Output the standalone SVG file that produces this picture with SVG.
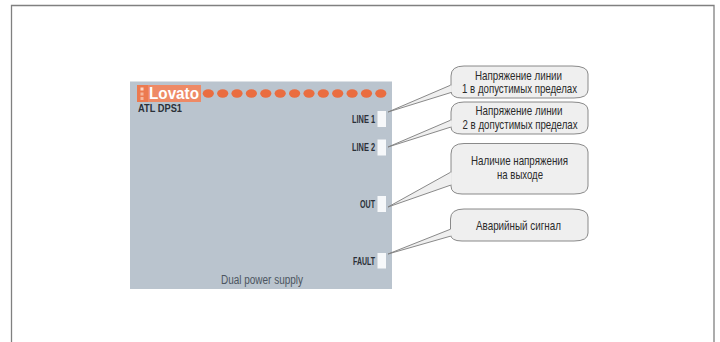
<svg xmlns="http://www.w3.org/2000/svg" width="720" height="342" viewBox="0 0 720 342">
<style>
.frame{fill:none;stroke:#808080;stroke-width:1.3}
.led{fill:#f6f8fa}
.dot{fill:#ea6d40}
.call{fill:#efefef;stroke:#7d7d7d;stroke-width:.9;stroke-linejoin:round}
.gap{stroke:#efefef;stroke-width:1.800;fill:none}
.t{font-family:"Liberation Sans",sans-serif;font-size:13px;fill:#2a2a2a}
.lab{font-family:"Liberation Sans",sans-serif;font-size:11px;font-weight:700;fill:#2b3038}
</style>
<rect width="720" height="342" fill="#fff"/>
<path class="frame" d="M11.500 342V5.500H714V342"/>
<g id="panel">
<rect x="130" y="81.500" width="262" height="207.500" fill="#bac4ce"/>
<rect x="137" y="85" width="64" height="17" fill="#ee8a66"/>
<rect x="137" y="85" width="11" height="17" fill="#ec7a50"/>
<rect x="140.500" y="87.500" width="3" height="3" fill="#fbd9c8"/>
<rect x="140.500" y="92.500" width="3" height="3" fill="#f6b89e"/>
<rect x="140.500" y="97" width="3" height="3" fill="#f6b89e"/>
<text x="149" y="99" font-family="Liberation Sans,sans-serif" font-size="17" font-weight="700" fill="#fff" textLength="50" lengthAdjust="spacingAndGlyphs">Lovato</text>
<g class="dot">
<ellipse cx="208.300" cy="93.500" rx="5.600" ry="4.200"/><ellipse cx="222.700" cy="93.500" rx="5.600" ry="4.200"/><ellipse cx="237" cy="93.500" rx="5.600" ry="4.200"/><ellipse cx="251.400" cy="93.500" rx="5.600" ry="4.200"/><ellipse cx="265.800" cy="93.500" rx="5.600" ry="4.200"/><ellipse cx="280.200" cy="93.500" rx="5.600" ry="4.200"/><ellipse cx="294.600" cy="93.500" rx="5.600" ry="4.200"/><ellipse cx="309" cy="93.500" rx="5.600" ry="4.200"/><ellipse cx="323.300" cy="93.500" rx="5.600" ry="4.200"/><ellipse cx="337.700" cy="93.500" rx="5.600" ry="4.200"/><ellipse cx="352.100" cy="93.500" rx="5.600" ry="4.200"/><ellipse cx="366.500" cy="93.500" rx="5.600" ry="4.200"/><ellipse cx="380.800" cy="93.500" rx="5.600" ry="4.200"/>
</g>
<text class="lab" x="138" y="112" textLength="44" lengthAdjust="spacingAndGlyphs">ATL DPS1</text>
<text x="221" y="284" font-family="Liberation Sans,sans-serif" font-size="12" fill="#4c5560" textLength="82" lengthAdjust="spacingAndGlyphs">Dual power supply</text>
</g>
<g id="led-line1"><rect class="led" x="377.500" y="111" width="8.500" height="16"/><text class="lab" x="352" y="122.500" textLength="23" lengthAdjust="spacingAndGlyphs">LINE 1</text></g>
<g id="led-line2"><rect class="led" x="377.500" y="139.500" width="8.500" height="16"/><text class="lab" x="352" y="151" textLength="23" lengthAdjust="spacingAndGlyphs">LINE 2</text></g>
<g id="led-out"><rect class="led" x="377.500" y="196" width="8.500" height="16"/><text class="lab" x="360" y="208" textLength="15" lengthAdjust="spacingAndGlyphs">OUT</text></g>
<g id="led-fault"><rect class="led" x="377.500" y="253" width="8.500" height="15.500"/><text class="lab" x="353" y="264.500" textLength="22" lengthAdjust="spacingAndGlyphs">FAULT</text></g>
<g id="callout-1"><path class="call" d="M451 76Q451 66 464 66H572Q588 66 588 74V90Q588 98 574 98H462Q451 98 451 91Z"/><text class="t" x="475" y="79.500" textLength="87" lengthAdjust="spacingAndGlyphs">Напряжение линии</text><text class="t" x="462" y="93" textLength="115" lengthAdjust="spacingAndGlyphs">1 в допустимых пределах</text></g>
<g id="callout-2"><path class="call" d="M451 112Q451 102 464 102H572Q588 102 588 110V126Q588 134 574 134H462Q451 134 451 127Z"/><text class="t" x="475.500" y="114.500" textLength="87" lengthAdjust="spacingAndGlyphs">Напряжение линии</text><text class="t" x="462.500" y="129" textLength="115" lengthAdjust="spacingAndGlyphs">2 в допустимых пределах</text></g>
<g id="callout-3"><path class="call" d="M451 154Q451 143.500 464 143.500H572Q588 143.500 588 152V186Q588 194 574 194H462Q451 194 451 186Z"/><text class="t" x="471" y="165" textLength="97" lengthAdjust="spacingAndGlyphs">Наличие напряжения</text><text class="t" x="497" y="179" textLength="46" lengthAdjust="spacingAndGlyphs">на выходе</text></g>
<g id="callout-4"><path class="call" d="M450.500 219Q450.500 209 464 209H572Q588 209 588 217V233Q588 241 574 241H462Q450.500 241 450.500 234Z"/><text class="t" x="476" y="230" textLength="85" lengthAdjust="spacingAndGlyphs">Аварийный сигнал</text></g>
<g id="connectors">
<path class="call" d="M451 85L388 112L451 92.500"/><path class="gap" d="M451 85.500V92"/>
<path class="call" d="M451 120L388 147L451 127"/><path class="gap" d="M451 120.500V126.500"/>
<path class="call" d="M451 172L388 207L451 185"/><path class="gap" d="M451 172.500V184.500"/>
<path class="call" d="M451 229L388 254L451 236"/><path class="gap" d="M451 229.500V235.500"/>
</g>
</svg>
